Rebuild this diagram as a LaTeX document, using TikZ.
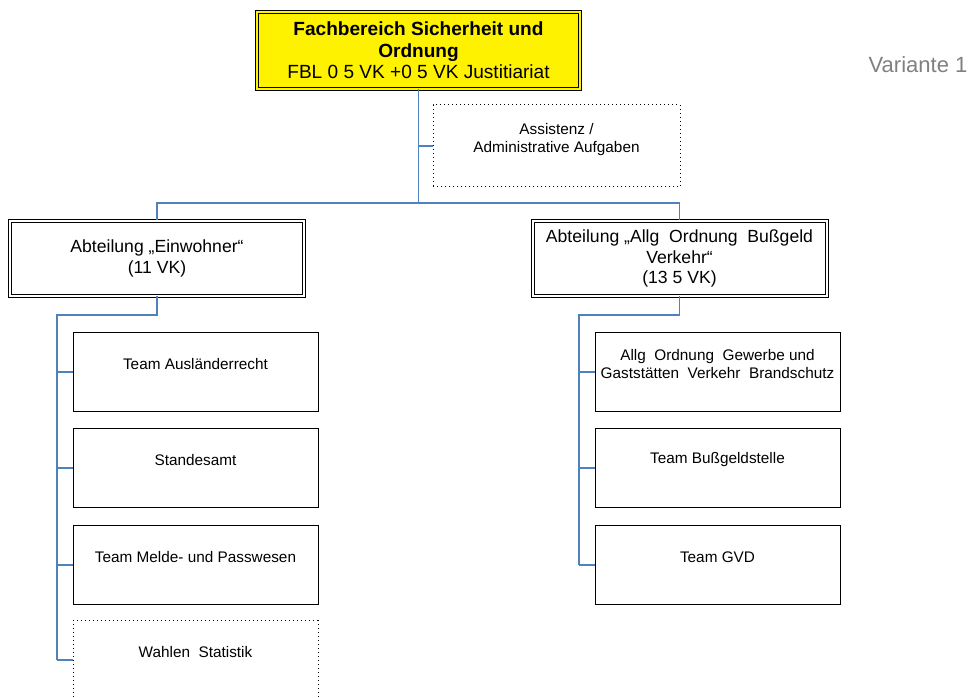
\documentclass[tikz,border=0pt]{standalone}
\usepackage{fontspec}
\setmainfont{Liberation Sans}
\definecolor{linkblue}{RGB}{79,129,189}
\begin{document}
\begin{tikzpicture}[x=0.75pt, y=-0.75pt,
    conn/.style={draw=linkblue, line width=0.8pt},
    headbox/.style={draw, double=yellow, double distance=1.5pt, line width=0.75pt, fill=yellow, minimum width=242.25pt, minimum height=57.75pt, align=center, inner sep=0pt, font=\fontsize{14.3}{16.2}\selectfont},
    deptbox/.style={draw, double, double distance=1.5pt, line width=0.75pt, minimum width=220.5pt, minimum height=56.25pt, align=center, inner sep=0pt, font=\fontsize{13.2}{15.4}\selectfont},
    teambox/.style={draw, line width=0.75pt, minimum width=183.75pt, minimum height=59.25pt},
    dotbox/.style={teambox, dash pattern=on 0.75pt off 2.25pt},
    teamtext/.style={align=center, inner sep=0pt, font=\fontsize{11.5}{13.5}\selectfont}]
    \useasboundingbox (0,0) rectangle (973,698);
    \clip (0,0) rectangle (973,698);
    \node[headbox] (fb) at (418.5,50.5) {\textbf{Fachbereich Sicherheit und}\\\textbf{Ordnung}\\FBL 0 5 VK +0 5 VK Justitiariat};
    \node[dotbox, minimum width=185.25pt, minimum height=61.5pt] (asst) at (556.5,146) {};
    \node[teamtext] (asst-t) at ([yshift=-26.25pt]asst.north) {Assistenz /\\Administrative Aufgaben};
    \node[text=gray, font=\fontsize{16.5}{20}\selectfont] (var) at (918,65) {Variante 1};
    \node[deptbox] (ein) at (157,258.5) {Abteilung „Einwohner“\\(11 VK)};
    \node[deptbox] (ord) at (679.5,258.5) {Abteilung „Allg~ Ordnung~ Bußgeld\\Verkehr“\\(13 5 VK)};
    \node[teambox] (t1) at (195.5,372) {};
    \node[teambox] (t2) at (195.5,468) {};
    \node[teambox] (t3) at (195.5,565) {};
    \node[dotbox] (t4) at (195.5,660) {};
    \node[teamtext] (t1-t) at ([yshift=-24pt]t1.north) {Team Ausländerrecht};
    \node[teamtext] (t2-t) at ([yshift=-24pt]t2.north) {Standesamt};
    \node[teamtext] (t3-t) at ([yshift=-24pt]t3.north) {Team Melde- und Passwesen};
    \node[teamtext] (t4-t) at ([yshift=-24pt]t4.north) {Wahlen~ Statistik};
    \node[teambox] (r1) at (717.5,372) {};
    \node[teambox] (r2) at (717.5,468) {};
    \node[teambox] (r3) at (717.5,565) {};
    \node[teamtext] (r1-t) at ([yshift=-24pt]r1.north) {Allg~ Ordnung~ Gewerbe und\\Gaststätten~ Verkehr~ Brandschutz};
    \node[teamtext] (r2-t) at ([yshift=-24pt]r2.north) {Team Bußgeldstelle};
    \node[teamtext] (r3-t) at ([yshift=-24pt]r3.north) {Team GVD};
    \coordinate (hub) at (418.5,203);
    \coordinate (lrail) at (57,315);
    \coordinate (rrail) at (579,315);
    \draw[conn] (fb.south) -- (hub);
    \draw[conn] (fb.south |- asst.west) -- (asst.west);
    \draw[conn] (hub) -| (ein.north);
    \draw[conn] (hub) -| (ord.north);
    \draw[conn] (ein.south) |- (lrail) -- (lrail |- t4.west);
    \draw[conn] (ord.south) |- (rrail) -- (rrail |- r3.west);
    \foreach \t in {t1,t2,t3,t4}
        \draw[conn] (lrail |- \t.west) -- (\t.west);
    \foreach \r in {r1,r2,r3}
        \draw[conn] (rrail |- \r.west) -- (\r.west);
\end{tikzpicture}
\end{document}
